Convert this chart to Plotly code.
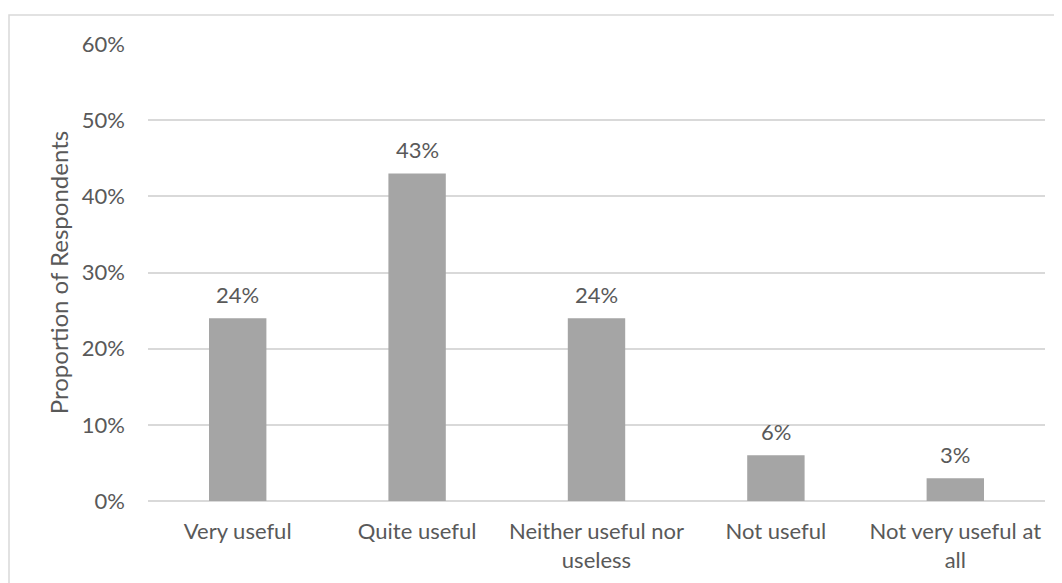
import plotly.graph_objects as go

categories = ["Very useful", "Quite useful", "Neither useful nor<br>useless", "Not useful", "Not very useful at<br>all"]
values = [0.24, 0.43, 0.24, 0.06, 0.03]
value_labels = ["24%", "43%", "24%", "6%", "3%"]

# page offset: browser body margin of 8px
OFF = 8
W, H = 1062 - OFF, 583 - OFF
# target plot area in page pixels: x 148..1045, y 44..501
L = 148 - OFF
T = 44 - OFF
R = W - (1045 - OFF)
B = H - (501 - OFF)
pw, ph = W - L - R, H - T - B

FONT = "Lato"
GREY = "#595959"
FS = 22

fig = go.Figure(go.Bar(
    x=categories, y=values,
    marker=dict(color="#A5A5A5", line=dict(width=0)),
    width=0.32, hoverinfo="x+y",
))

annotations = [
    dict(x=c, y=v, text=t, xref="x", yref="y", showarrow=False,
         yanchor="bottom", yshift=8, font=dict(family=FONT, size=FS, color=GREY))
    for c, v, t in zip(categories, values, value_labels)
]

def px_x(p):
    return (p - OFF - L) / pw

def px_y(p):
    return (H - B - (p - OFF)) / ph

fig.update_layout(
    width=W, height=H,
    margin=dict(l=L, r=R, t=T, b=B, autoexpand=False),
    plot_bgcolor="white", paper_bgcolor="white",
    font=dict(family=FONT, color=GREY, size=FS),
    showlegend=False,
    xaxis=dict(showgrid=False, showline=False, ticks="", ticklabelstandoff=15,
               automargin=False,
               tickfont=dict(family=FONT, size=FS, color=GREY)),
    yaxis=dict(range=[0, 0.6], dtick=0.1, tickformat=".0%",
               gridcolor="#D9D9D9", gridwidth=1.5, zeroline=True,
               zerolinecolor="#D9D9D9", zerolinewidth=1.5, showline=False,
               ticks="", ticklabelstandoff=22, automargin=False,
               tickfont=dict(family=FONT, size=FS, color=GREY),
               title=dict(text="Proportion of Respondents", standoff=6,
                          font=dict(family=FONT, size=24, color=GREY))),
    annotations=annotations,
    shapes=[dict(type="rect", xref="paper", yref="paper",
                 x0=px_x(9), x1=px_x(1080), y0=px_y(620), y1=px_y(15),
                 line=dict(color="#D9D9D9", width=1.5), layer="below")],
)

fig.write_html("out.html")
